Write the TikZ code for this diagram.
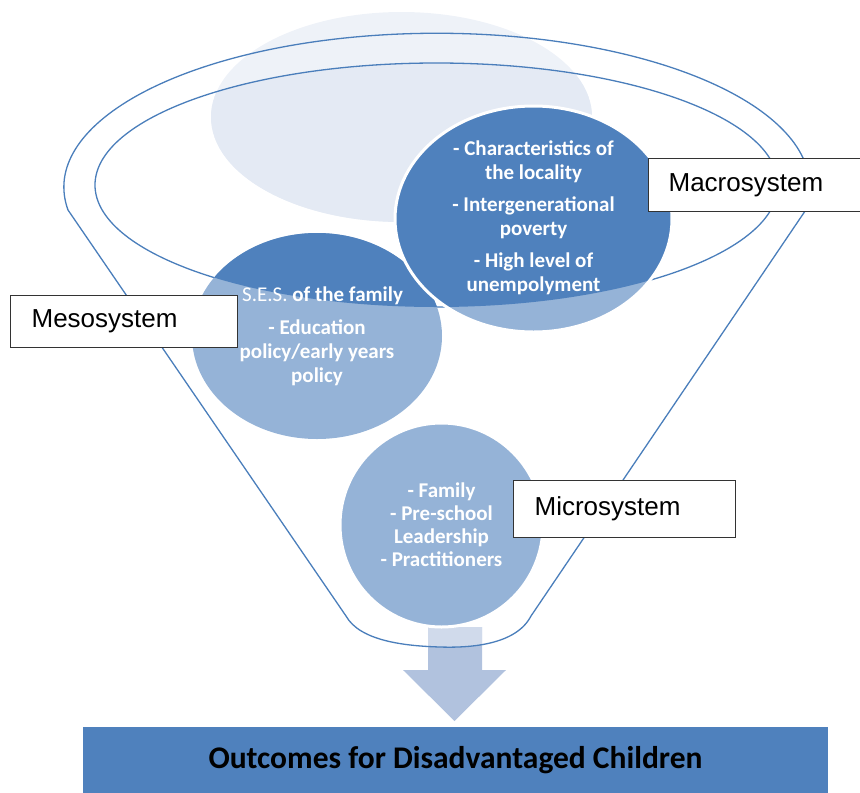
\documentclass[tikz,border=0pt]{standalone}
\usepackage{fontspec}
\setmainfont{Carlito}
\newfontfamily\boxfont{Liberation Sans}
\definecolor{darkblue}{HTML}{4F81BD}
\definecolor{midblue}{HTML}{95B3D7}
\definecolor{lightin}{HTML}{E4EAF4}
\definecolor{lightout}{HTML}{EEF2F8}
\definecolor{arrowout}{HTML}{B1C2DE}
\definecolor{arrowin}{HTML}{D0DAEB}
\definecolor{linecol}{HTML}{4A7EBB}

\begin{document}
\begin{tikzpicture}[x=1pt, y=-1pt,
        sysbox/.style={rectangle,
            draw=black!80,
            line width=1.2pt,
            fill=white,
            anchor=north west,
            inner xsep=20pt,
            align=left,
            font=\boxfont\fontsize{26}{30}\selectfont},
        circtext/.style={align=center,
            text=white,
            font=\bfseries\fontsize{21}{24}\selectfont},
        funnelline/.style={draw=linecol, line width=1.3pt}]
    \useasboundingbox (0,0) rectangle (860,793);

    \fill[lightout] (401.5,117) ellipse [x radius=190.5pt, y radius=105pt];
    \begin{scope}
        \clip (436.5,185) ellipse [x radius=341.5pt, y radius=122pt];
        \fill[lightin] (401.5,117) ellipse [x radius=190.5pt, y radius=105pt];
    \end{scope}

    \fill[arrowout] (428,627) -- (482,627) -- (482,670) -- (506,670) -- (454.5,721) -- (403,670) -- (428,670) -- cycle;
    \begin{scope}
        \clip (68,210) arc[start angle=188.5, end angle=-8.5, x radius=373pt, y radius=154pt] -- (531,616)
            .. controls (516,645) and (470,648) .. (440,647) .. controls (405,646) and (360,641) .. (346,616) -- cycle;
        \fill[arrowin] (428,627) -- (482,627) -- (482,670) -- (428,670) -- cycle;
    \end{scope}

    \draw[funnelline] (436.5,185) ellipse [x radius=341.5pt, y radius=122pt];
    \draw[funnelline] (68,210) arc[start angle=188.5, end angle=-8.5, x radius=373pt, y radius=154pt] -- (531,616)
        .. controls (516,645) and (470,648) .. (440,647) .. controls (405,646) and (360,641) .. (346,616) -- cycle;

    \fill[midblue] (317,336) ellipse [x radius=125pt, y radius=103pt];
    \fill[midblue] (533.5,219) ellipse [x radius=138.5pt, y radius=113pt];
    \begin{scope}
        \clip (436.5,185) ellipse [x radius=341.5pt, y radius=122pt];
        \fill[darkblue] (317,336) ellipse [x radius=125pt, y radius=103pt];
        \fill[darkblue] (533.5,219) ellipse [x radius=138.5pt, y radius=113pt];
    \end{scope}
    \draw[white, line width=3pt] (533.5,219) ellipse [x radius=138.5pt, y radius=113pt];
    \filldraw[fill=midblue, draw=white, line width=3pt] (441.5,525) ellipse [x radius=101.5pt, y radius=102pt];

    \node[circtext] (A) at (533.5,218) {- Characteristics of\\ the locality\\[8pt] - Intergenerational\\ poverty\\[8pt] - High level of\\ unempolyment};
    \node[circtext] (B) at (317,336.5) {\hphantom{- }{\mdseries S.E.S.} of the family\\[9pt] - Education\\ policy/early years\\ policy};
    \node[circtext,
        font=\bfseries\fontsize{21}{23}\selectfont] (C) at (441.5,524.5) {- Family\\ - Pre-school\\ Leadership\\ - Practitioners};

    \node[sysbox,
        minimum height=53pt,
        text width=180pt] (D) at (648,158) {Macrosystem};
    \node[sysbox,
        minimum height=52pt,
        inner xsep=21pt,
        text width=185pt] (E) at (10,295) {Mesosystem};
    \node[sysbox,
        minimum height=57pt,
        inner xsep=21pt,
        text width=180pt] (F) at (513,480) {Microsystem};

    \node[rectangle,
        fill=darkblue,
        minimum width=745pt,
        minimum height=66pt,
        font=\bfseries\fontsize{31.5}{36}\selectfont] (G) at (455.5,760) {Outcomes for Disadvantaged Children};
\end{tikzpicture}
\end{document}
